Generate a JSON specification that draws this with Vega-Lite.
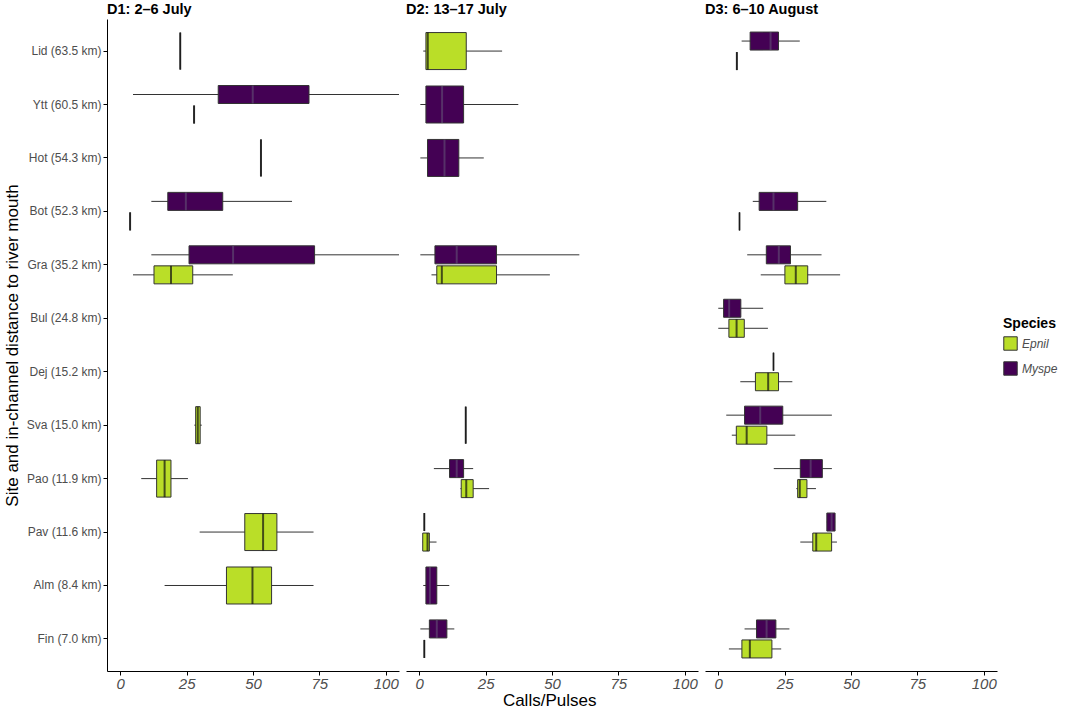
{
  "$schema": "https://vega.github.io/schema/vega-lite/v6.json",
  "padding": {"left": 3, "top": 1, "right": 5, "bottom": 0},
  "background": "white",
  "title": {"text": "Calls/Pulses", "orient": "bottom", "anchor": "middle", "fontSize": 17, "fontWeight": "normal", "font": "Liberation Sans", "color": "black", "offset": 2, "dx": 19},
  "data": {"values": [
    {"panel": "D1: 2–6 July", "site": "Lid (63.5 km)", "sp": "Myspe", "pos": "full", "lo": 22.6, "q1": 22.6, "med": 22.6, "q3": 22.6, "hi": 22.6},
    {"panel": "D1: 2–6 July", "site": "Ytt (60.5 km)", "sp": "Myspe", "pos": "dodge", "lo": 4.8, "q1": 36.9, "med": 49.9, "q3": 71.1, "hi": 105},
    {"panel": "D1: 2–6 July", "site": "Ytt (60.5 km)", "sp": "Epnil", "pos": "dodge", "lo": 27.8, "q1": 27.8, "med": 27.8, "q3": 27.8, "hi": 27.8},
    {"panel": "D1: 2–6 July", "site": "Hot (54.3 km)", "sp": "Myspe", "pos": "full", "lo": 53, "q1": 53, "med": 53, "q3": 53, "hi": 53},
    {"panel": "D1: 2–6 July", "site": "Bot (52.3 km)", "sp": "Myspe", "pos": "dodge", "lo": 11.7, "q1": 17.9, "med": 24.7, "q3": 38.6, "hi": 64.7},
    {"panel": "D1: 2–6 July", "site": "Bot (52.3 km)", "sp": "Epnil", "pos": "dodge", "lo": 3.7, "q1": 3.7, "med": 3.7, "q3": 3.7, "hi": 3.7},
    {"panel": "D1: 2–6 July", "site": "Gra (35.2 km)", "sp": "Myspe", "pos": "dodge", "lo": 11.7, "q1": 25.9, "med": 42.5, "q3": 73.2, "hi": 105},
    {"panel": "D1: 2–6 July", "site": "Gra (35.2 km)", "sp": "Epnil", "pos": "dodge", "lo": 4.8, "q1": 12.7, "med": 19.1, "q3": 27.3, "hi": 42.4},
    {"panel": "D1: 2–6 July", "site": "Sva (15.0 km)", "sp": "Epnil", "pos": "full", "lo": 27.9, "q1": 28.4, "med": 29.2, "q3": 30.1, "hi": 30.7},
    {"panel": "D1: 2–6 July", "site": "Pao (11.9 km)", "sp": "Epnil", "pos": "full", "lo": 7.9, "q1": 13.7, "med": 16.7, "q3": 19.1, "hi": 25.5},
    {"panel": "D1: 2–6 July", "site": "Pav (11.6 km)", "sp": "Epnil", "pos": "full", "lo": 29.9, "q1": 46.9, "med": 53.8, "q3": 59, "hi": 72.8},
    {"panel": "D1: 2–6 July", "site": "Alm (8.4 km)", "sp": "Epnil", "pos": "full", "lo": 16.7, "q1": 40, "med": 49.8, "q3": 57, "hi": 72.8},

    {"panel": "D2: 13–17 July", "site": "Lid (63.5 km)", "sp": "Epnil", "pos": "full", "lo": 1.5, "q1": 2.5, "med": 3.2, "q3": 17.7, "hi": 31.2},
    {"panel": "D2: 13–17 July", "site": "Ytt (60.5 km)", "sp": "Myspe", "pos": "full", "lo": 0.4, "q1": 2.5, "med": 8.6, "q3": 16.7, "hi": 37.3},
    {"panel": "D2: 13–17 July", "site": "Hot (54.3 km)", "sp": "Myspe", "pos": "full", "lo": 0.4, "q1": 3.1, "med": 9.5, "q3": 14.9, "hi": 24.3},
    {"panel": "D2: 13–17 July", "site": "Gra (35.2 km)", "sp": "Myspe", "pos": "dodge", "lo": 0.4, "q1": 5.9, "med": 14.1, "q3": 29.1, "hi": 60.3},
    {"panel": "D2: 13–17 July", "site": "Gra (35.2 km)", "sp": "Epnil", "pos": "dodge", "lo": 4.6, "q1": 6.6, "med": 8.5, "q3": 29.1, "hi": 49.2},
    {"panel": "D2: 13–17 July", "site": "Sva (15.0 km)", "sp": "Myspe", "pos": "full", "lo": 17.5, "q1": 17.5, "med": 17.5, "q3": 17.5, "hi": 17.5},
    {"panel": "D2: 13–17 July", "site": "Pao (11.9 km)", "sp": "Myspe", "pos": "dodge", "lo": 5.5, "q1": 11.4, "med": 14.1, "q3": 16.7, "hi": 20.3},
    {"panel": "D2: 13–17 July", "site": "Pao (11.9 km)", "sp": "Epnil", "pos": "dodge", "lo": 15.5, "q1": 15.8, "med": 17.7, "q3": 20.3, "hi": 26.3},
    {"panel": "D2: 13–17 July", "site": "Pav (11.6 km)", "sp": "Myspe", "pos": "dodge", "lo": 1.9, "q1": 1.9, "med": 1.9, "q3": 1.9, "hi": 1.9},
    {"panel": "D2: 13–17 July", "site": "Pav (11.6 km)", "sp": "Epnil", "pos": "dodge", "lo": 1.3, "q1": 1.3, "med": 3.1, "q3": 3.8, "hi": 6.5},
    {"panel": "D2: 13–17 July", "site": "Alm (8.4 km)", "sp": "Myspe", "pos": "full", "lo": 1.5, "q1": 2.5, "med": 4.0, "q3": 6.6, "hi": 11.3},
    {"panel": "D2: 13–17 July", "site": "Fin (7.0 km)", "sp": "Myspe", "pos": "dodge", "lo": 0.4, "q1": 3.8, "med": 6.6, "q3": 10.4, "hi": 13.2},
    {"panel": "D2: 13–17 July", "site": "Fin (7.0 km)", "sp": "Epnil", "pos": "dodge", "lo": 1.9, "q1": 1.9, "med": 1.9, "q3": 1.9, "hi": 1.9},

    {"panel": "D3: 6–10 August", "site": "Lid (63.5 km)", "sp": "Myspe", "pos": "dodge", "lo": 8.8, "q1": 12, "med": 19.7, "q3": 22.7, "hi": 30.7},
    {"panel": "D3: 6–10 August", "site": "Lid (63.5 km)", "sp": "Epnil", "pos": "dodge", "lo": 7.0, "q1": 7.0, "med": 7.0, "q3": 7.0, "hi": 7.0},
    {"panel": "D3: 6–10 August", "site": "Bot (52.3 km)", "sp": "Myspe", "pos": "dodge", "lo": 13, "q1": 15.4, "med": 20.8, "q3": 29.9, "hi": 40.7},
    {"panel": "D3: 6–10 August", "site": "Bot (52.3 km)", "sp": "Epnil", "pos": "dodge", "lo": 8.0, "q1": 8.0, "med": 8.0, "q3": 8.0, "hi": 8.0},
    {"panel": "D3: 6–10 August", "site": "Gra (35.2 km)", "sp": "Myspe", "pos": "dodge", "lo": 10.9, "q1": 18.1, "med": 22.8, "q3": 27.2, "hi": 38.9},
    {"panel": "D3: 6–10 August", "site": "Gra (35.2 km)", "sp": "Epnil", "pos": "dodge", "lo": 16.0, "q1": 25.1, "med": 29.2, "q3": 33.7, "hi": 45.9},
    {"panel": "D3: 6–10 August", "site": "Bul (24.8 km)", "sp": "Myspe", "pos": "dodge", "lo": 0, "q1": 2.0, "med": 4.1, "q3": 8.5, "hi": 16.9},
    {"panel": "D3: 6–10 August", "site": "Bul (24.8 km)", "sp": "Epnil", "pos": "dodge", "lo": 0, "q1": 4.0, "med": 6.9, "q3": 9.8, "hi": 18.7},
    {"panel": "D3: 6–10 August", "site": "Dej (15.2 km)", "sp": "Myspe", "pos": "dodge", "lo": 20.8, "q1": 20.8, "med": 20.8, "q3": 20.8, "hi": 20.8},
    {"panel": "D3: 6–10 August", "site": "Dej (15.2 km)", "sp": "Epnil", "pos": "dodge", "lo": 8.3, "q1": 14.0, "med": 18.8, "q3": 22.7, "hi": 27.9},
    {"panel": "D3: 6–10 August", "site": "Sva (15.0 km)", "sp": "Myspe", "pos": "dodge", "lo": 3.0, "q1": 9.9, "med": 15.8, "q3": 24.3, "hi": 42.8},
    {"panel": "D3: 6–10 August", "site": "Sva (15.0 km)", "sp": "Epnil", "pos": "dodge", "lo": 5.1, "q1": 6.8, "med": 10.7, "q3": 18.3, "hi": 29.0},
    {"panel": "D3: 6–10 August", "site": "Pao (11.9 km)", "sp": "Myspe", "pos": "dodge", "lo": 20.9, "q1": 30.9, "med": 34.8, "q3": 39.2, "hi": 42.8},
    {"panel": "D3: 6–10 August", "site": "Pao (11.9 km)", "sp": "Epnil", "pos": "dodge", "lo": 29.4, "q1": 29.9, "med": 30.7, "q3": 33.4, "hi": 36.8},
    {"panel": "D3: 6–10 August", "site": "Pav (11.6 km)", "sp": "Myspe", "pos": "dodge", "lo": 40.9, "q1": 40.9, "med": 42.7, "q3": 44.0, "hi": 44.0},
    {"panel": "D3: 6–10 August", "site": "Pav (11.6 km)", "sp": "Epnil", "pos": "dodge", "lo": 30.9, "q1": 35.6, "med": 36.9, "q3": 42.7, "hi": 44.7},
    {"panel": "D3: 6–10 August", "site": "Fin (7.0 km)", "sp": "Myspe", "pos": "dodge", "lo": 9.9, "q1": 14.4, "med": 18.2, "q3": 21.7, "hi": 26.8},
    {"panel": "D3: 6–10 August", "site": "Fin (7.0 km)", "sp": "Epnil", "pos": "dodge", "lo": 4.0, "q1": 8.9, "med": 11.9, "q3": 20.2, "hi": 23.7}
  ]},
  "facet": {
    "column": {
      "field": "panel", "type": "nominal", "title": null,
      "header": {"labelAnchor": "start", "labelFontWeight": "bold", "labelFontSize": 14.5, "labelFont": "Liberation Sans", "labelColor": "black", "labelPadding": 2}
    }
  },
  "spacing": 6,
  "spec": {
    "width": 292,
    "height": 652,
    "encoding": {
      "y": {
        "field": "site", "type": "nominal",
        "sort": ["Lid (63.5 km)", "Ytt (60.5 km)", "Hot (54.3 km)", "Bot (52.3 km)", "Gra (35.2 km)", "Bul (24.8 km)", "Dej (15.2 km)", "Sva (15.0 km)", "Pao (11.9 km)", "Pav (11.6 km)", "Alm (8.4 km)", "Fin (7.0 km)"],
        "scale": {"domain": ["Lid (63.5 km)", "Ytt (60.5 km)", "Hot (54.3 km)", "Bot (52.3 km)", "Gra (35.2 km)", "Bul (24.8 km)", "Dej (15.2 km)", "Sva (15.0 km)", "Pao (11.9 km)", "Pav (11.6 km)", "Alm (8.4 km)", "Fin (7.0 km)"], "paddingInner": 0, "paddingOuter": 0.1},
        "axis": {"title": "Site and in-channel distance to river mouth"}
      }
    },
    "layer": [
      {
        "transform": [{"filter": "datum.pos === 'full'"}],
        "layer": [
          {"mark": {"type": "rule", "color": "#333333", "strokeWidth": 1},
           "encoding": {"x": {"field": "lo", "type": "quantitative", "scale": {"domain": [-5, 105], "nice": false, "zero": false}, "axis": {"values": [0, 25, 50, 75, 100], "title": null}}, "x2": {"field": "hi"}}},
          {"mark": {"type": "bar", "size": 37, "stroke": "#333333", "strokeWidth": 1},
           "encoding": {"x": {"field": "q1", "type": "quantitative"}, "x2": {"field": "q3"},
             "fill": {"field": "sp", "type": "nominal", "title": "Species", "scale": {"domain": ["Epnil", "Myspe"], "range": ["#BADE28", "#440154"]}}}},
          {"mark": {"type": "tick", "size": 37, "thickness": 2},
           "encoding": {"x": {"field": "med", "type": "quantitative"},
             "color": {"condition": {"test": "datum.sp === 'Myspe' && datum.q3 > datum.q1", "value": "#5e4670"}, "value": "#111111"}}}
        ]
      },
      {
        "transform": [{"filter": "datum.pos === 'dodge'"}],
        "encoding": {"yOffset": {"field": "sp", "type": "nominal", "scale": {"domain": ["Myspe", "Epnil"], "paddingInner": 0, "paddingOuter": 0.335}}},
        "layer": [
          {"mark": {"type": "rule", "color": "#333333", "strokeWidth": 1},
           "encoding": {"x": {"field": "lo", "type": "quantitative"}, "x2": {"field": "hi"}}},
          {"mark": {"type": "bar", "size": 18, "stroke": "#333333", "strokeWidth": 1},
           "encoding": {"x": {"field": "q1", "type": "quantitative"}, "x2": {"field": "q3"},
             "fill": {"field": "sp", "type": "nominal"}}},
          {"mark": {"type": "tick", "size": 18, "thickness": 2},
           "encoding": {"x": {"field": "med", "type": "quantitative"},
             "color": {"condition": {"test": "datum.sp === 'Myspe' && datum.q3 > datum.q1", "value": "#5e4670"}, "value": "#111111"}}}
        ]
      }
    ]
  },
  "config": {
    "font": "Liberation Sans",
    "view": {"stroke": null},
    "axis": {"grid": false, "domainColor": "black", "tickColor": "black", "tickSize": 4, "labelColor": "#4d4d4d", "labelFont": "Liberation Sans", "titleFont": "Liberation Sans", "titleColor": "black", "titleFontWeight": "normal", "titleFontSize": 17, "domainWidth": 1},
    "axisX": {"labelFontSize": 15, "labelFontStyle": "italic", "labelPadding": 1},
    "axisY": {"labelFontSize": 12, "labelPadding": 2, "titlePadding": 5},
    "legend": {"orient": "none", "legendX": 896, "legendY": 298, "titleFontSize": 14, "titleFontWeight": "bold", "titleColor": "black", "labelFontSize": 12, "labelFontStyle": "italic", "labelColor": "#4d4d4d", "symbolType": "square", "symbolSize": 180, "symbolStrokeColor": "#333333", "symbolStrokeWidth": 1, "rowPadding": 6}
  }
}
